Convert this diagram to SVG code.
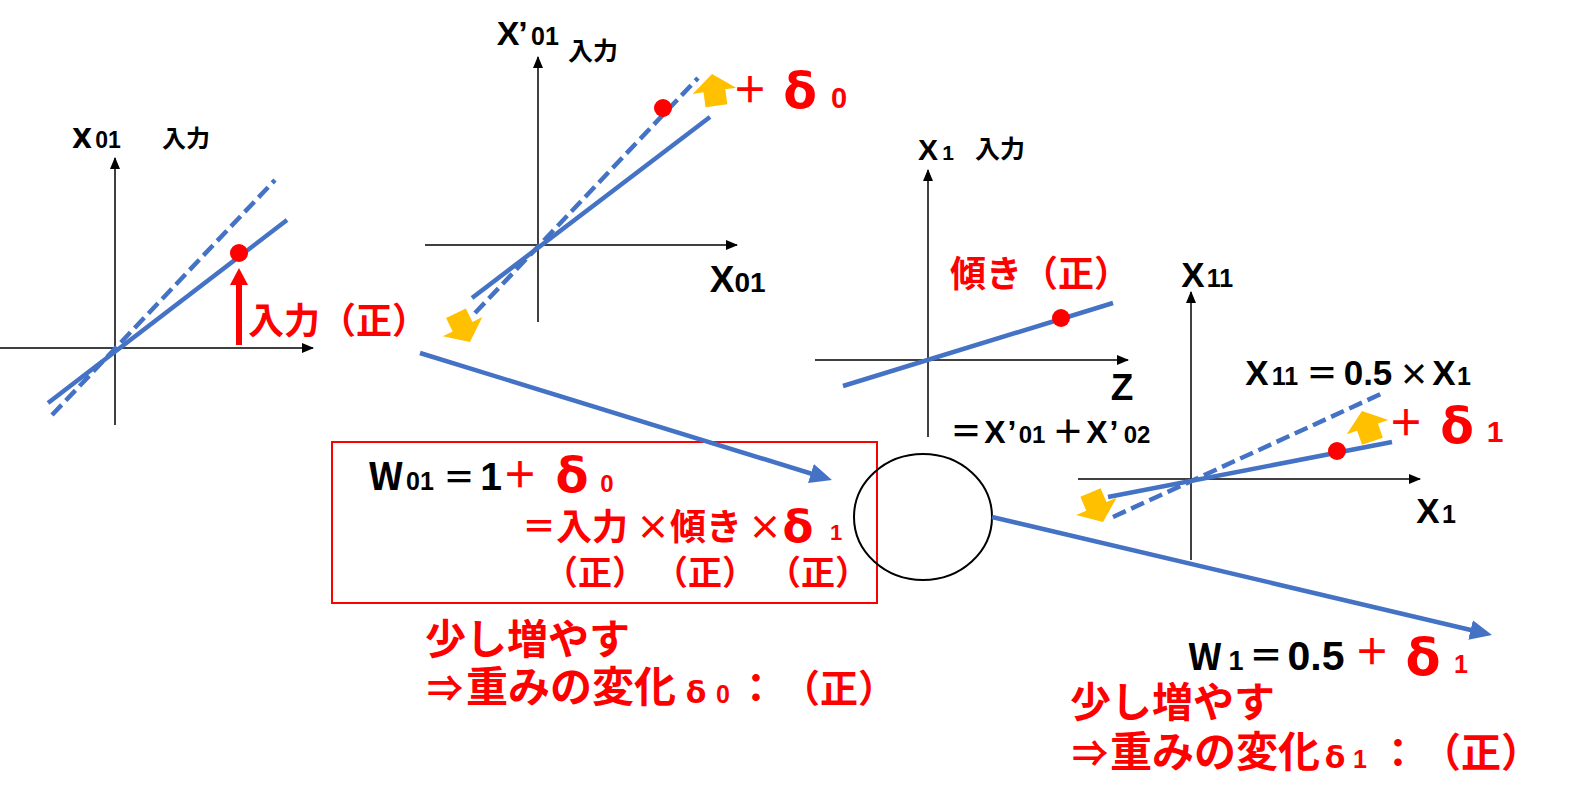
<svg xmlns="http://www.w3.org/2000/svg" xmlns:xlink="http://www.w3.org/1999/xlink" width="1571" height="805" viewBox="0 0 1571 805">
<style>
text{font-family:"Noto Sans CJK JP","Noto Sans",sans-serif;font-weight:bold}
.l{font-family:"Liberation Sans","Noto Sans CJK JP",sans-serif}
.g{font-family:"DejaVu Sans","Noto Sans CJK JP",sans-serif}
.k{fill:#000}
.r{fill:#FF0000}
.m{text-anchor:middle}
.ax{stroke:#000;stroke-width:1.5;fill:none;marker-end:url(#axh)}
.bl{stroke:#4472C4;stroke-width:4.5;fill:none}
.bd{stroke:#4472C4;stroke-width:4.5;fill:none;stroke-dasharray:14 6}
.dot{fill:#FF0000}
.ya{fill:#FFC000}
</style>
<defs>
<marker id="axh" markerUnits="userSpaceOnUse" markerWidth="12" markerHeight="10" refX="11" refY="5" orient="auto"><path d="M0,0 L12,5 L0,10 Z" fill="#000"/></marker>
<marker id="bh" markerUnits="userSpaceOnUse" markerWidth="22" markerHeight="20" refX="10" refY="10" orient="auto"><path d="M0,0 L22,10 L0,20 Z" fill="#4472C4"/></marker>
<path id="yarr" d="M0,0 L22,17 L11,17 L11,32 L-11,32 L-11,17 L-22,17 Z"/>
</defs>
<rect width="1571" height="805" fill="#fff"/>

<g id="graph1">
<line class="ax" x1="115" y1="425" x2="115" y2="158"/>
<line class="ax" x1="0" y1="348" x2="313" y2="348"/>
<line class="bd" x1="52" y1="415" x2="275" y2="180"/>
<line class="bl" x1="48" y1="403" x2="287" y2="220"/>
<circle class="dot" cx="239" cy="253" r="9"/>
<line x1="239" y1="345" x2="239" y2="283" stroke="#FF0000" stroke-width="6"/>
<polygon points="230,285 239,268 248,285" fill="#FF0000"/>
<text class="k m g" x="82" y="148" font-size="26">X</text>
<text class="k m l" x="108" y="148" font-size="23">01</text>
<text class="k m" x="186" y="147" font-size="24">入力</text>
<text class="r" x="248" y="334" font-size="36">入力（正）</text>
</g>

<g id="graph2">
<line class="ax" x1="538" y1="322" x2="538" y2="57"/>
<line class="ax" x1="425" y1="245" x2="737" y2="245"/>
<line class="bd" x1="475" y1="313" x2="698" y2="78"/>
<line class="bl" x1="472" y1="298" x2="710" y2="117"/>
<circle class="dot" cx="663" cy="108" r="9"/>
<use xlink:href="#yarr" class="ya" transform="translate(712,74) rotate(-8)"/>
<use xlink:href="#yarr" class="ya" transform="translate(470,342) rotate(154)"/>
<text class="k m l" x="508" y="45" font-size="34">X</text>
<text class="k m l" x="523" y="45" font-size="34">’</text>
<text class="k m l" x="545" y="45" font-size="25">01</text>
<text class="k m" x="593" y="60" font-size="25">入力</text>
<text class="k m l" x="722" y="292" font-size="37">X</text>
<text class="k m l" x="750" y="292" font-size="28">01</text>
<text class="r m" x="750" y="103" font-size="36">＋</text>
<text class="r m g" x="800" y="108" font-size="49">δ</text>
<text class="r m l" x="839" y="108" font-size="29">0</text>
</g>

<g id="graph3">
<line class="ax" x1="928" y1="437" x2="928" y2="170"/>
<line class="ax" x1="815" y1="360" x2="1128" y2="360"/>
<line class="bl" x1="843" y1="386" x2="1113" y2="303"/>
<circle class="dot" cx="1061" cy="318" r="9"/>
<text class="k m l" x="928" y="160" font-size="30">X</text>
<text class="k m l" x="948" y="160" font-size="21">1</text>
<text class="k m" x="1000" y="158" font-size="25">入力</text>
<text class="r" x="950" y="287" font-size="36">傾き（正）</text>
<text class="k m l" x="1122" y="400" font-size="37">Z</text>
<text class="k m" x="966" y="443" font-size="32">＝</text>
<text class="k m l" x="995" y="443" font-size="32">X</text>
<text class="k m l" x="1012" y="443" font-size="32">’</text>
<text class="k m l" x="1032" y="443" font-size="24">01</text>
<text class="k m" x="1068" y="443" font-size="32">＋</text>
<text class="k m l" x="1097" y="443" font-size="32">X</text>
<text class="k m l" x="1114" y="443" font-size="32">’</text>
<text class="k m l" x="1137" y="443" font-size="24">02</text>
</g>

<g id="graph4">
<line class="ax" x1="1191" y1="560" x2="1191" y2="292"/>
<line class="ax" x1="1078" y1="479" x2="1420" y2="479"/>
<line class="bd" x1="1113" y1="517" x2="1383" y2="393"/>
<line class="bl" x1="1108" y1="497" x2="1392" y2="442"/>
<circle class="dot" cx="1337" cy="451" r="9"/>
<use xlink:href="#yarr" class="ya" transform="translate(1362,411) rotate(-19)"/>
<use xlink:href="#yarr" class="ya" transform="translate(1103,522) rotate(157)"/>
<text class="k m l" x="1193" y="287" font-size="35">X</text>
<text class="k m l" x="1220" y="287" font-size="25">11</text>
<text class="k m l" x="1257" y="385" font-size="35">X</text>
<text class="k m l" x="1285" y="385" font-size="25">11</text>
<text class="k m" x="1322" y="385" font-size="32">＝</text>
<text class="k m l" x="1368" y="385" font-size="35">0.5</text>
<text class="k m" x="1414" y="385" font-size="30">×</text>
<text class="k m l" x="1444" y="385" font-size="35">X</text>
<text class="k m l" x="1464" y="385" font-size="25">1</text>
<text class="r m" x="1406" y="436" font-size="36">＋</text>
<text class="r m g" x="1457" y="443" font-size="49">δ</text>
<text class="r m l" x="1495" y="442" font-size="30">1</text>
<text class="k m l" x="1428" y="523" font-size="35">X</text>
<text class="k m l" x="1449" y="523" font-size="25">1</text>
</g>

<g id="formula-box">
<rect x="332" y="442" width="545" height="161" fill="none" stroke="#FF0000" stroke-width="2"/>
<text class="k m" x="386" y="490" font-size="38">W</text>
<text class="k m l" x="420" y="490" font-size="25">01</text>
<text class="k m" x="459" y="489" font-size="32">＝</text>
<text class="k m l" x="491" y="490" font-size="39">1</text>
<text class="r m" x="520" y="488" font-size="36">＋</text>
<text class="r m g" x="572" y="492" font-size="48">δ</text>
<text class="r m l" x="607" y="492" font-size="24">0</text>
<text class="r m" x="539" y="539" font-size="34">＝</text>
<text class="r" x="556" y="540" font-size="36">入力</text>
<text class="r m" x="653" y="540" font-size="34">×</text>
<text class="r" x="670" y="540" font-size="36">傾き</text>
<text class="r m" x="765" y="540" font-size="34">×</text>
<text class="r m g" x="798" y="542" font-size="45">δ</text>
<text class="r m l" x="836" y="540" font-size="22">1</text>
<text class="r m" x="595" y="585" font-size="34">（正）</text>
<text class="r m" x="705" y="585" font-size="34">（正）</text>
<text class="r m" x="818" y="585" font-size="34">（正）</text>
</g>

<g id="sum-node">
<ellipse cx="923" cy="517" rx="69" ry="63" fill="none" stroke="#000" stroke-width="2"/>
</g>

<g id="note0">
<text class="r" x="425" y="654" font-size="41">少し増やす</text>
<text class="r m" x="445" y="702" font-size="36">⇒</text>
<text class="r" x="466" y="702" font-size="42">重みの変化</text>
<text class="r m g" x="696" y="703" font-size="30">δ</text>
<text class="r m l" x="723" y="703" font-size="25">0</text>
<text class="r m" x="756" y="702" font-size="40">：</text>
<text class="r m" x="839" y="702" font-size="38">（正）</text>
</g>

<g id="note1">
<text class="k m" x="1205" y="670" font-size="37">W</text>
<text class="k m l" x="1236" y="670" font-size="27">1</text>
<text class="k m" x="1266" y="668" font-size="34">＝</text>
<text class="k m l" x="1316" y="670" font-size="41">0.5</text>
<text class="r m" x="1372" y="665" font-size="36">＋</text>
<text class="r m g" x="1423" y="675" font-size="51">δ</text>
<text class="r m l" x="1461" y="673" font-size="25">1</text>
<text class="r" x="1070" y="717" font-size="41">少し増やす</text>
<text class="r m" x="1090" y="767" font-size="36">⇒</text>
<text class="r" x="1110" y="767" font-size="42">重みの変化</text>
<text class="r m g" x="1335" y="768" font-size="30">δ</text>
<text class="r m l" x="1360" y="768" font-size="25">1</text>
<text class="r m" x="1398" y="767" font-size="40">：</text>
<text class="r m" x="1481" y="767" font-size="40">（正）</text>
</g>

<g id="connectors">
<line class="bl" x1="420" y1="353" x2="820.5" y2="476.5" marker-end="url(#bh)"/>
<line class="bl" x1="992" y1="517" x2="1480.3" y2="632.2" marker-end="url(#bh)"/>
</g>
</svg>
